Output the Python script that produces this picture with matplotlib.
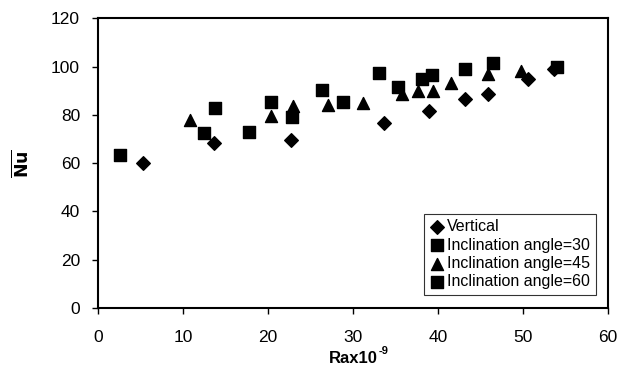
import matplotlib
matplotlib.use("Agg")
import matplotlib.pyplot as plt

plt.rcParams['font.family'] = ['Liberation Sans', 'DejaVu Sans']

vert_x = [5.3, 13.6, 22.7, 33.7, 38.9, 43.2, 45.9, 50.6, 53.6]
vert_y = [59.9, 68.2, 69.8, 76.5, 81.7, 86.5, 88.9, 94.8, 99.0]

a30_x = [2.6, 12.5, 17.8, 22.8, 28.8, 35.3, 38.1, 43.2]
a30_y = [63.6, 72.6, 73.0, 79.2, 85.4, 91.6, 95.1, 98.9]

a45_x = [10.8, 20.3, 22.9, 27.1, 31.2, 35.8, 37.6, 39.4, 41.5, 45.9, 49.8]
a45_y = [77.8, 79.5, 83.6, 84.0, 85.0, 88.9, 90.0, 90.0, 93.3, 96.8, 98.3]

a60_x = [13.8, 20.4, 26.3, 33.0, 39.3, 46.5, 54.0]
a60_y = [82.7, 85.4, 90.3, 97.2, 96.5, 101.7, 99.9]

labels = ['Vertical', 'Inclination angle=30', 'Inclination angle=45', 'Inclination angle=60']
xticks = [0, 10, 20, 30, 40, 50, 60]
yticks = [0, 20, 40, 60, 80, 100, 120]

fig = plt.figure(figsize=(6.21, 3.85), dpi=100)
ax = fig.add_axes([0.158, 0.2, 0.821, 0.752])

ax.scatter(vert_x, vert_y, marker='D', s=48, color='black', label=labels[0], zorder=3)
ax.scatter(a30_x, a30_y, marker='s', s=80, color='black', label=labels[1], zorder=3)
ax.scatter(a45_x, a45_y, marker='^', s=75, color='black', label=labels[2], zorder=3)
ax.scatter(a60_x, a60_y, marker='s', s=80, color='black', label=labels[3], zorder=3)

ax.set_xlim(0, 60)
ax.set_ylim(0, 120)
ax.set_xticks(xticks)
ax.set_yticks(yticks)
ax.tick_params(direction='out', length=4, width=1, labelsize=12.5)
ax.tick_params(axis='x', pad=12)
ax.tick_params(axis='y', pad=9)
for s in ax.spines.values():
    s.set_linewidth(1.5)

ax.set_xlabel('Rax10', fontsize=12, fontweight='bold', labelpad=4)
ax.annotate('-9', xy=(1, 1), xycoords=ax.xaxis.label, xytext=(0.5, -0.5),
            textcoords='offset points', fontsize=8, fontweight='bold',
            ha='left', va='center')
ax.set_ylabel(r'$\mathbf{\overline{Nu}}$', fontsize=12.5, labelpad=14)

leg = ax.legend(loc='lower right', bbox_to_anchor=(0.985, 0.03), fontsize=11.5,
                frameon=True, fancybox=False, edgecolor='black', handletextpad=0.1,
                handlelength=1.0, borderpad=0.35, labelspacing=0.2, borderaxespad=0.3)
leg.get_frame().set_linewidth(0.8)

fig.savefig('out.png', dpi=100)
